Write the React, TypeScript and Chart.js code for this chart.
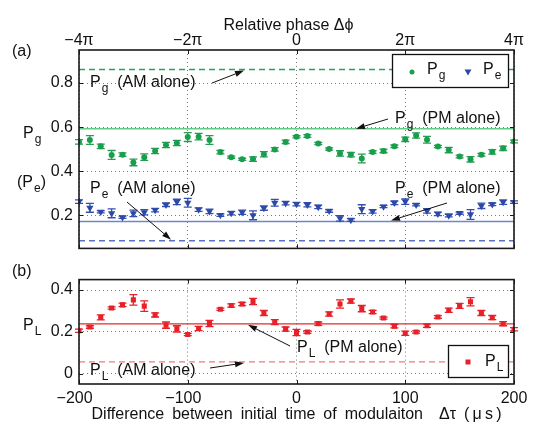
import React, { useEffect, useRef } from 'react';
import { Chart, registerables } from 'chart.js';
Chart.register(...registerables);

const FONT = 'Liberation Sans';

// Δτ (µs)
const delays = [-200, -190, -180, -170, -160, -150, -140, -130, -120, -110, -100, -90, -80, -70, -60, -50, -40, -30, -20, -10,
  0, 10, 20, 30, 40, 50, 60, 70, 80, 90, 100, 110, 120, 130, 140, 150, 160, 170, 180, 190, 200];

const pgValues = [0.533, 0.542, 0.513, 0.474, 0.475, 0.44, 0.464, 0.492, 0.519, 0.528, 0.555, 0.557, 0.542, 0.487, 0.464, 0.454, 0.455, 0.477, 0.499, 0.533,
  0.556, 0.56, 0.526, 0.501, 0.481, 0.475, 0.458, 0.487, 0.492, 0.513, 0.545, 0.562, 0.543, 0.512, 0.496, 0.467, 0.454, 0.475, 0.488, 0.504, 0.535];
const pgErrors = [0.01, 0.02, 0.01, 0.02, 0.008, 0.015, 0.015, 0.012, 0.012, 0.012, 0.02, 0.015, 0.02, 0.008, 0.005, 0.005, 0.01, 0.012, 0.008, 0.008,
  0.005, 0.006, 0.005, 0.005, 0.012, 0.01, 0.02, 0.006, 0.008, 0.006, 0.01, 0.012, 0.015, 0.005, 0.012, 0.006, 0.012, 0.006, 0.01, 0.01, 0.006];

const peValues = [0.262, 0.234, 0.216, 0.209, 0.191, 0.209, 0.214, 0.224, 0.248, 0.261, 0.257, 0.226, 0.218, 0.201, 0.21, 0.214, 0.2, 0.233, 0.257, 0.255,
  0.251, 0.248, 0.238, 0.22, 0.186, 0.179, 0.228, 0.218, 0.24, 0.257, 0.262, 0.248, 0.22, 0.207, 0.199, 0.21, 0.204, 0.243, 0.25, 0.26, 0.26];
const peErrors = [0.008, 0.02, 0.005, 0.02, 0.005, 0.015, 0.012, 0.008, 0.008, 0.012, 0.02, 0.008, 0.01, 0.006, 0.008, 0.01, 0.02, 0.01, 0.015, 0.008,
  0.008, 0.01, 0.008, 0.006, 0.012, 0.006, 0.02, 0.008, 0.005, 0.008, 0.012, 0.005, 0.01, 0.008, 0.006, 0.005, 0.022, 0.012, 0.006, 0.01, 0.006];

const plValues = [0.205, 0.223, 0.269, 0.314, 0.329, 0.353, 0.323, 0.281, 0.232, 0.214, 0.187, 0.216, 0.24, 0.308, 0.326, 0.333, 0.345, 0.29, 0.246, 0.213,
  0.197, 0.199, 0.239, 0.285, 0.333, 0.347, 0.311, 0.295, 0.266, 0.227, 0.193, 0.199, 0.229, 0.271, 0.303, 0.324, 0.344, 0.29, 0.268, 0.239, 0.212];
const plErrors = [0.008, 0.006, 0.012, 0.005, 0.008, 0.025, 0.025, 0.01, 0.015, 0.015, 0.005, 0.01, 0.015, 0.005, 0.008, 0.008, 0.015, 0.012, 0.012, 0.01,
  0.015, 0.006, 0.008, 0.01, 0.02, 0.01, 0.015, 0.008, 0.005, 0.008, 0.01, 0.005, 0.008, 0.006, 0.01, 0.012, 0.02, 0.012, 0.01, 0.01, 0.008];

const pgPMalone = [0.593];
const pgAMalone = [0.861];
const pePMalone = [0.172];
const peAMalone = [0.085];
const plPMalone = [0.238];
const plAMalone = [0.056];

const xTicks = [-200, -100, 0, 100, 200];
const bottomTickLabels = ['\u2212200\u2007', '\u2212100\u2007', '0', '100', '200'];
const phaseTickLabels = ['\u22124\u03c0', '\u22122\u03c0', '0', '2\u03c0', '4\u03c0'];
const topYTicks = [0.2, 0.4, 0.6, 0.8];
const bottomYTicks = [0, 0.2, 0.4];

const GREEN = '#17a04c';
const BLUE = '#2c48a8';
const RED = '#e8202a';

const pts = (vals: number[]) => vals.map((v, i) => ({ x: delays[i], y: v }));
const hline = (v: number) => [{ x: -200, y: v }, { x: 200, y: v }];

function drawSub(ctx: CanvasRenderingContext2D, x: number, y: number, base: string, sub: string, rest: string, size = 16) {
  ctx.save();
  ctx.textAlign = 'left';
  ctx.textBaseline = 'alphabetic';
  ctx.fillStyle = '#111';
  ctx.font = `${size}px "${FONT}"`;
  ctx.fillText(base, x, y);
  let cx = x + ctx.measureText(base).width + 1;
  ctx.font = `${Math.round(size * 0.78)}px "${FONT}"`;
  ctx.fillText(sub, cx, y + size * 0.3);
  cx += ctx.measureText(sub).width;
  ctx.font = `${size}px "${FONT}"`;
  if (rest) ctx.fillText(rest, cx, y);
  ctx.restore();
}

function arrow(ctx: CanvasRenderingContext2D, x1: number, y1: number, x2: number, y2: number) {
  ctx.save();
  ctx.strokeStyle = '#111';
  ctx.fillStyle = '#111';
  ctx.lineWidth = 1;
  const a = Math.atan2(y2 - y1, x2 - x1);
  const L = 9, W = 3;
  const bx = x2 - Math.cos(a) * L, by = y2 - Math.sin(a) * L;
  ctx.beginPath();
  ctx.moveTo(x1, y1);
  ctx.lineTo(bx, by);
  ctx.stroke();
  ctx.beginPath();
  ctx.moveTo(x2, y2);
  ctx.lineTo(bx + Math.sin(a) * W, by - Math.cos(a) * W);
  ctx.lineTo(bx - Math.sin(a) * W, by + Math.cos(a) * W);
  ctx.closePath();
  ctx.fill();
  ctx.restore();
}

const errorBarPlugin = {
  id: 'errorBars',
  beforeDatasetDraw(chart: any, args: any) {
    const ds = chart.data.datasets[args.index];
    if (!ds.errors) return;
    const ctx = chart.ctx;
    const xs = chart.scales.x, ys = chart.scales.y;
    ctx.save();
    ctx.strokeStyle = ds.errColor;
    ctx.lineWidth = 1.3;
    ds.data.forEach((p: any, i: number) => {
      const e = ds.errors[i];
      const x = xs.getPixelForValue(p.x);
      const y1 = ys.getPixelForValue(p.y + e);
      const y2 = ys.getPixelForValue(p.y - e);
      ctx.beginPath();
      ctx.moveTo(x, y1); ctx.lineTo(x, y2);
      ctx.moveTo(x - 4, y1); ctx.lineTo(x + 4, y1);
      ctx.moveTo(x - 4, y2); ctx.lineTo(x + 4, y2);
      ctx.stroke();
    });
    ctx.restore();
  },
};

function frame(chart: any, xTickVals: number[], yTickVals: number[]) {
  const ctx = chart.ctx;
  const { left, right, top, bottom } = chart.chartArea;
  const xs = chart.scales.x, ys = chart.scales.y;
  ctx.save();
  ctx.strokeStyle = '#1a1a1a';
  ctx.lineWidth = 1;
  xTickVals.forEach((v) => {
    const x = Math.round(xs.getPixelForValue(v)) + 0.5;
    ctx.beginPath();
    ctx.moveTo(x, top); ctx.lineTo(x, top + 4);
    ctx.moveTo(x, bottom); ctx.lineTo(x, bottom - 4);
    ctx.stroke();
  });
  yTickVals.forEach((v) => {
    const y = Math.round(ys.getPixelForValue(v)) + 0.5;
    ctx.beginPath();
    ctx.moveTo(left, y); ctx.lineTo(left + 4, y);
    ctx.moveTo(right, y); ctx.lineTo(right - 4, y);
    ctx.stroke();
  });
  ctx.lineWidth = 1.6;
  ctx.strokeRect(left, top, right - left, bottom - top);
  ctx.restore();
}

const topDecor = {
  id: 'topDecor',
  afterDraw(chart: any) {
    const ctx = chart.ctx;
    const ys = chart.scales.y;
    frame(chart, xTicks, topYTicks);
    ctx.save();
    ctx.font = `16px "${FONT}"`;
    ctx.fillStyle = '#111';
    ctx.textBaseline = 'alphabetic';
    ctx.fillText('(a)', 12, 56);
    ctx.restore();
    drawSub(ctx, 23, 138, 'P', 'g', '');
    drawSub(ctx, 17, 187, '(P', 'e', ')');
    drawSub(ctx, 90, 87, 'P', 'g', '  (AM alone)');
    arrow(ctx, 212, 83, 244, ys.getPixelForValue(pgAMalone[0]) + 1);
    drawSub(ctx, 395, 123, 'P', 'g', '  (PM alone)');
    arrow(ctx, 388, 119, 356, ys.getPixelForValue(pgPMalone[0]));
    drawSub(ctx, 90, 193, 'P', 'e', '  (AM alone)');
    arrow(ctx, 127, 202, 171, ys.getPixelForValue(peAMalone[0]) - 1);
    drawSub(ctx, 395, 193, 'P', 'e', '  (PM alone)');
    arrow(ctx, 447, 203, 391, ys.getPixelForValue(pePMalone[0]) - 1);
    ctx.save();
    ctx.fillStyle = '#fff';
    ctx.fillRect(392, 54, 117, 34);
    ctx.strokeStyle = '#111';
    ctx.lineWidth = 1.3;
    ctx.strokeRect(392.5, 54.5, 116, 33);
    ctx.fillStyle = GREEN;
    ctx.beginPath();
    ctx.arc(412, 72, 2.5, 0, Math.PI * 2);
    ctx.fill();
    ctx.fillStyle = BLUE;
    ctx.beginPath();
    ctx.moveTo(464.5, 69.5); ctx.lineTo(471.5, 69.5); ctx.lineTo(468, 75.5);
    ctx.closePath();
    ctx.fill();
    ctx.restore();
    drawSub(ctx, 427, 74, 'P', 'g', '');
    drawSub(ctx, 483, 74, 'P', 'e', '');
  },
};

const bottomDecor = {
  id: 'bottomDecor',
  afterDraw(chart: any) {
    const ctx = chart.ctx;
    const ys = chart.scales.y;
    const o = 264;
    frame(chart, xTicks, bottomYTicks);
    ctx.save();
    ctx.font = `16px "${FONT}"`;
    ctx.fillStyle = '#111';
    ctx.fillText('(b)', 12, 276 - o);
    ctx.restore();
    drawSub(ctx, 23, 330 - o, 'P', 'L', '');
    drawSub(ctx, 297, 352 - o, 'P', 'L', '  (PM alone)');
    arrow(ctx, 290, 346 - o, 248, ys.getPixelForValue(plPMalone[0]) + 1);
    drawSub(ctx, 90, 375 - o, 'P', 'L', '  (AM alone)');
    arrow(ctx, 210, 368 - o, 244, 363 - o);
    ctx.save();
    ctx.fillStyle = '#fff';
    ctx.fillRect(448, 345 - o, 61, 33);
    ctx.strokeStyle = '#111';
    ctx.lineWidth = 1.3;
    ctx.strokeRect(448.5, 345.5 - o, 60, 32);
    ctx.fillStyle = RED;
    ctx.fillRect(465.5, 359.5 - o, 5, 5);
    ctx.restore();
    drawSub(ctx, 485, 366 - o, 'P', 'L', '');
  },
};

const gridOpts = {
  color: '#7a7a7a',
  lineWidth: 1,
  drawTicks: false,
};
const gridBorder = { display: false, dash: [1, 3] };

function baseLine(label: string, v: number, color: string, dashed: boolean, width = 1.5) {
  return {
    label,
    data: hline(v),
    showLine: true,
    borderColor: color,
    borderWidth: width,
    borderDash: dashed ? [6, 4] : [],
    pointRadius: 0,
    fill: false,
  };
}

export default function App() {
  const topRef = useRef<HTMLCanvasElement>(null);
  const botRef = useRef<HTMLCanvasElement>(null);

  useEffect(() => {
    Chart.defaults.font.family = FONT;
    const top = new Chart(topRef.current!, {
      type: 'scatter',
      data: {
        datasets: [
          {
            label: 'Pg', data: pts(pgValues), errors: pgErrors, errColor: '#2a9a55',
            backgroundColor: GREEN, borderColor: GREEN, pointRadius: 3, pointStyle: 'circle', borderWidth: 0,
          } as any,
          {
            label: 'Pe', data: pts(peValues), errors: peErrors, errColor: '#3550ac',
            backgroundColor: BLUE, borderColor: BLUE, pointRadius: 4.2, pointStyle: 'triangle', rotation: 180, borderWidth: 0,
          } as any,
          baseLine('Pg PM alone', pgPMalone[0], '#63cc86', false),
          baseLine('Pg AM alone', pgAMalone[0], '#28a457', true, 1.5),
          baseLine('Pe PM alone', pePMalone[0], '#7286c6', false),
          baseLine('Pe AM alone', peAMalone[0], '#5a72c4', true, 1.5),
        ],
      },
      options: {
        animation: false,
        responsive: false,
        maintainAspectRatio: false,
        layout: { padding: { left: 0, right: 22, top: 0, bottom: 2 } },
        plugins: { legend: { display: false }, tooltip: { enabled: false } },
        scales: {
          x: {
            type: 'linear', position: 'top', min: -200, max: 200,
            afterBuildTicks: (axis: any) => { axis.ticks = xTicks.map((v) => ({ value: v })); },
            afterFit: (axis: any) => { axis.height = 50; },
            ticks: {
              callback: (_v: any, i: number) => phaseTickLabels[i],
              font: { size: 16, family: FONT }, color: '#111', padding: 0, maxRotation: 0,
            },
            grid: gridOpts,
            border: gridBorder,
            title: { display: true, text: 'Relative phase \u0394\u03d5\u2002\u2002', font: { size: 16, family: FONT }, color: '#111', padding: { top: 16, bottom: 0 } },
          },
          y: {
            type: 'linear', min: 0.05, max: 0.95,
            afterBuildTicks: (axis: any) => { axis.ticks = topYTicks.map((v) => ({ value: v })); },
            afterFit: (axis: any) => { axis.width = 79; },
            ticks: { callback: (v: any) => Number(v).toFixed(1), font: { size: 16, family: FONT }, color: '#111', padding: 6 },
            grid: gridOpts,
            border: gridBorder,
          },
        },
      } as any,
      plugins: [errorBarPlugin, topDecor],
    });

    const bot = new Chart(botRef.current!, {
      type: 'scatter',
      data: {
        datasets: [
          {
            label: 'PL', data: pts(plValues), errors: plErrors, errColor: RED,
            backgroundColor: RED, borderColor: RED, pointRadius: 3.6, pointStyle: 'rect', borderWidth: 0,
          } as any,
          baseLine('PL PM alone', plPMalone[0], '#e42a2a', false, 1.2),
          baseLine('PL AM alone', plAMalone[0], '#f27878', true, 1.4),
        ],
      },
      options: {
        animation: false,
        responsive: false,
        maintainAspectRatio: false,
        layout: { padding: { left: 0, right: 22, top: 5, bottom: 0 } },
        plugins: { legend: { display: false }, tooltip: { enabled: false } },
        scales: {
          x: {
            type: 'linear', position: 'bottom', min: -200, max: 200,
            afterBuildTicks: (axis: any) => { axis.ticks = xTicks.map((v) => ({ value: v })); },
            afterFit: (axis: any) => { axis.height = 42; },
            ticks: {
              callback: (_v: any, i: number) => bottomTickLabels[i],
              font: { size: 16, family: FONT }, color: '#111', padding: 5, maxRotation: 0,
            },
            grid: gridOpts,
            border: gridBorder,
            title: {
              display: true,
              text: 'Difference\u2002between\u2002initial\u2002time\u2002of\u2002modulaiton\u2002\u2002\u0394\u03c4\u2002(\u2009\u03bc\u2009s\u2009)',
              font: { size: 16, family: FONT }, color: '#111', padding: { top: 0, bottom: 2 },
            },
          },
          y: {
            type: 'linear', min: -0.05, max: 0.45,
            afterBuildTicks: (axis: any) => { axis.ticks = bottomYTicks.map((v) => ({ value: v })); },
            afterFit: (axis: any) => { axis.width = 79; },
            ticks: { callback: (v: any) => (v === 0 ? '0' : Number(v).toFixed(1)), font: { size: 16, family: FONT }, color: '#111', padding: 6 },
            grid: gridOpts,
            border: gridBorder,
          },
        },
      } as any,
      plugins: [errorBarPlugin, bottomDecor],
    });

    return () => { top.destroy(); bot.destroy(); };
  }, []);

  return (
    <div style={{ position: 'absolute', left: 0, top: 0, width: 536, height: 426, background: '#fff' }}>
      <canvas ref={topRef} width={536} height={264} style={{ position: 'absolute', left: 0, top: 0, width: 536, height: 264 }} />
      <canvas ref={botRef} width={536} height={162} style={{ position: 'absolute', left: 0, top: 264, width: 536, height: 162 }} />
    </div>
  );
}
